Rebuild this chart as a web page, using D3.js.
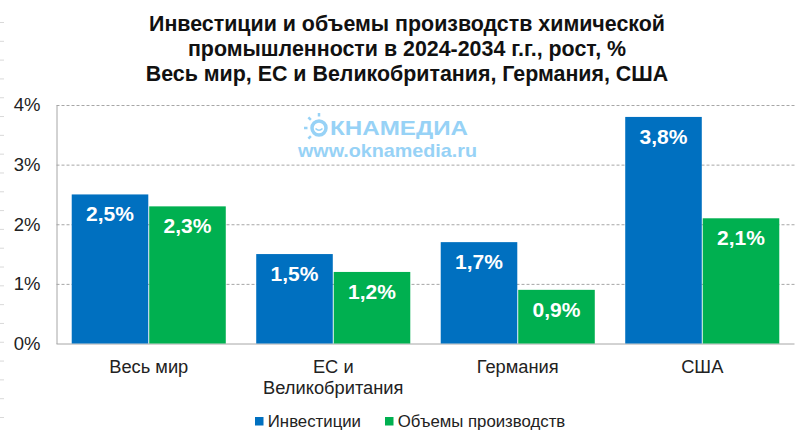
<!DOCTYPE html>
<html>
<head>
<meta charset="utf-8">
<script src="https://cdn.jsdelivr.net/npm/d3@7"></script>
<style>
    html, body { margin: 0; padding: 0; background: #fff; }
    text { font-family: "Liberation Sans", Arial, sans-serif; }
</style>
</head>
<body>
<div id="graphic"></div>
<script>
// Dati
var categories = [["Весь мир"], ["ЕС и", "Великобритания"], ["Германия"], ["США"]];
var seriesNames = ["Инвестиции", "Объемы производств"];
var investments = [2.5, 1.5, 1.7, 3.8];
var volumes = [2.3, 1.2, 0.9, 2.1];
var yTicks = [0, 1, 2, 3, 4];
var titleLines = [
    "Инвестиции и объемы производств химической",
    "промышленности в 2024-2034 г.г., рост, %",
    "Весь мир, ЕС и Великобритания, Германия, США"
];
var colors = ["#0070c0", "#00b050"];

var W = 800, H = 433;
var margin = {top: 105, right: 5.5, bottom: 89.5, left: 56.5};
var w = W - margin.left - margin.right;
var h = H - margin.top - margin.bottom;

function fmt(v) {
    return v.toFixed(1).replace('.', ',') + '%';
}

var svg = d3.select('#graphic')
    .append('svg')
    .attr('width', W)
    .attr('height', H)
    .style('display', 'block');

// Segni sul bordo sinistro della pagina
var edgeScale = d3.scaleLinear().domain([0, 21]).range([22, 417]);
svg.append('g')
    .selectAll('line')
    .data(d3.range(0, 22))
    .enter()
    .append('line')
    .attr('x1', 0)
    .attr('x2', 4)
    .attr('y1', function (d) { return edgeScale(d) + 0.5; })
    .attr('y2', function (d) { return edgeScale(d) + 0.5; })
    .attr('stroke', '#d9d9d9');

// Titolo
svg.append('g')
    .selectAll('text')
    .data(titleLines)
    .enter()
    .append('text')
    .attr('x', 407)
    .attr('y', function (d, i) { return 31 + i * 25; })
    .attr('text-anchor', 'middle')
    .attr('font-size', '21.4px')
    .attr('font-weight', 'bold')
    .attr('fill', '#111')
    .text(function (d) { return d; });

var g = svg.append('g')
    .attr('transform', 'translate(' + margin.left + ',' + margin.top + ')');

var x0 = d3.scaleBand()
    .domain(d3.range(categories.length))
    .range([0, w])
    .paddingInner(0.165)
    .paddingOuter(0.0825);
var x1 = d3.scaleBand()
    .domain([0, 1])
    .range([0, x0.bandwidth()])
    .paddingInner(0.012);
var yScale = d3.scaleLinear().domain([0, 4]).range([h, 0]);

// Griglia
g.append('g')
    .selectAll('line')
    .data(yTicks.slice(1))
    .enter()
    .append('line')
    .attr('x1', 0)
    .attr('x2', w)
    .attr('y1', function (d) { return yScale(d) + 0.5; })
    .attr('y2', function (d) { return yScale(d) + 0.5; })
    .attr('stroke', '#a6a6a6')
    .attr('stroke-dasharray', '3,2');

// Asse y
var yAxis = d3.axisLeft(yScale)
    .tickValues(yTicks)
    .tickSize(0)
    .tickPadding(16)
    .tickFormat(function (d) { return d + '%'; });
var yG = g.append('g').call(yAxis);
yG.select('.domain').attr('stroke', '#a6a6a6');
yG.selectAll('text')
    .attr('font-size', '18.5px')
    .attr('fill', '#222')
    .style('font-family', '"Liberation Sans", Arial, sans-serif');

// Asse x
g.append('line')
    .attr('x1', 0)
    .attr('x2', w)
    .attr('y1', h + 0.5)
    .attr('y2', h + 0.5)
    .attr('stroke', '#a6a6a6');

var xLabels = g.append('g')
    .selectAll('text')
    .data(categories)
    .enter()
    .append('text')
    .attr('text-anchor', 'middle')
    .attr('font-size', '18.3px')
    .attr('fill', '#222')
    .attr('transform', function (d, i) {
        return 'translate(' + (x0(i) + x0.bandwidth() / 2) + ',' + (h + 29) + ')';
    });
xLabels.selectAll('tspan')
    .data(function (d) { return d; })
    .enter()
    .append('tspan')
    .attr('x', 0)
    .attr('y', function (d, i) { return i * 21; })
    .text(function (d) { return d; });

// Filigrana
var mark = svg.append('g').attr('fill', '#97d2f6');
var sun = mark.append('g').attr('transform', 'translate(319,128)');
sun.append('circle')
    .attr('r', 7)
    .attr('fill', 'none')
    .attr('stroke', '#97d2f6')
    .attr('stroke-width', 3.5);
sun.append('path')
    .attr('d', 'M-3.5,0.5Q0,4 3.5,0.5')
    .attr('fill', 'none')
    .attr('stroke', '#97d2f6')
    .attr('stroke-width', 1.5);
sun.selectAll('line')
    .data([-90, -135, 180, 135])
    .enter()
    .append('line')
    .attr('x1', function (d) { return 11.5 * Math.cos(d * Math.PI / 180); })
    .attr('y1', function (d) { return 11.5 * Math.sin(d * Math.PI / 180); })
    .attr('x2', function (d) { return 15 * Math.cos(d * Math.PI / 180); })
    .attr('y2', function (d) { return 15 * Math.sin(d * Math.PI / 180); })
    .attr('stroke', '#97d2f6')
    .attr('stroke-width', 2.5);
mark.append('text')
    .attr('x', 330)
    .attr('y', 135)
    .attr('font-size', '20px')
    .attr('font-weight', 'bold')
    .attr('textLength', 138)
    .attr('lengthAdjust', 'spacingAndGlyphs')
    .text('КНАМЕДИА');
mark.append('text')
    .attr('x', 298)
    .attr('y', 157)
    .attr('font-size', '18.5px')
    .attr('font-weight', 'bold')
    .attr('textLength', 179)
    .attr('lengthAdjust', 'spacingAndGlyphs')
    .text('www.oknamedia.ru');

// Barre
[investments, volumes].forEach(function (values, s) {
    var series = g.append('g').attr('class', 'series');
    series.selectAll('rect')
        .data(values)
        .enter()
        .append('rect')
        .attr('x', function (d, i) { return x0(i) + x1(s); })
        .attr('y', function (d) { return yScale(d); })
        .attr('width', x1.bandwidth())
        .attr('height', function (d) { return h - yScale(d); })
        .attr('fill', colors[s]);
    series.selectAll('text')
        .data(values)
        .enter()
        .append('text')
        .attr('x', function (d, i) { return x0(i) + x1(s) + x1.bandwidth() / 2; })
        .attr('y', function (d) { return yScale(d) + 27; })
        .attr('text-anchor', 'middle')
        .attr('font-size', '21px')
        .attr('font-weight', 'bold')
        .attr('fill', '#fff')
        .text(fmt);
});

// Legenda
var legendX = d3.scaleOrdinal().domain(seriesNames).range([255, 385]);
var legend = svg.append('g')
    .selectAll('g')
    .data(seriesNames)
    .enter()
    .append('g')
    .attr('transform', function (d) { return 'translate(' + legendX(d) + ',417)'; });
legend.append('rect')
    .attr('width', 8.5)
    .attr('height', 8.5)
    .attr('fill', function (d, i) { return colors[i]; });
legend.append('text')
    .attr('x', 12.8)
    .attr('y', 9.5)
    .attr('font-size', '16.8px')
    .attr('fill', '#222')
    .text(function (d) { return d; });
</script>
</body>
</html>
